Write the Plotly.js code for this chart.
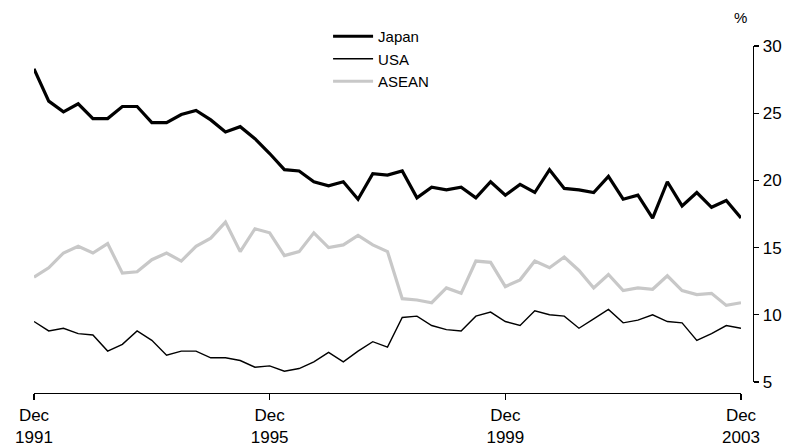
<!DOCTYPE html>
<html><head><meta charset="utf-8">
<script src="https://cdn.plot.ly/plotly-3.0.1.min.js"></script>
<style>html,body{margin:0;padding:0;background:#fff}#c{width:791px;height:448px}</style>
</head><body><div id="c"></div>
<script>
// Quarterly periods, Dec 1991 .. Dec 2003
const months = ['Mar','Jun','Sep','Dec'];
const quarters = ['Dec-1991'];
for (let y = 1992; y <= 2003; y++) for (const m of months) quarters.push(m + '-' + y);

const japan = [28.3,25.9,25.1,25.7,24.6,24.6,25.5,25.5,24.3,24.3,24.9,25.2,24.5,23.6,24.0,23.1,
  22.0,20.8,20.7,19.9,19.6,19.9,18.6,20.5,20.4,20.7,18.7,19.5,19.3,19.5,18.7,19.9,
  18.9,19.7,19.1,20.8,19.4,19.3,19.1,20.3,18.6,18.9,17.2,19.9,18.1,19.1,18.0,18.5,17.2];
const usa = [9.5,8.8,9.0,8.6,8.5,7.3,7.8,8.8,8.1,7.0,7.3,7.3,6.8,6.8,6.6,6.1,
  6.2,5.8,6.0,6.5,7.2,6.5,7.3,8.0,7.6,9.8,9.9,9.2,8.9,8.8,9.9,10.2,
  9.5,9.2,10.3,10.0,9.9,9.0,9.7,10.4,9.4,9.6,10.0,9.5,9.4,8.1,8.6,9.2,9.0];
const asean = [12.8,13.5,14.6,15.1,14.6,15.3,13.1,13.2,14.1,14.6,14.0,15.1,15.7,16.9,14.7,16.4,
  16.1,14.4,14.7,16.1,15.0,15.2,15.9,15.2,14.7,11.2,11.1,10.9,12.0,11.6,14.0,13.9,
  12.1,12.6,14.0,13.5,14.3,13.3,12.0,13.0,11.8,12.0,11.9,12.9,11.8,11.5,11.6,10.7,10.9];

const tickVals = ['Dec-1991','Dec-1995','Dec-1999','Dec-2003'];
const tickText = ['Dec<br>1991','Dec<br>1995','Dec<br>1999','Dec<br>2003'];
const yTicks = [5,10,15,20,25,30];

const font = '"Liberation Sans", Arial, sans-serif';

const traces = [
  {x: quarters, y: japan, name: 'Japan', type: 'scatter', mode: 'lines',
   line: {color: '#000000', width: 3.2}},
  {x: quarters, y: usa, name: 'USA', type: 'scatter', mode: 'lines',
   line: {color: '#000000', width: 1.4}},
  {x: quarters, y: asean, name: 'ASEAN', type: 'scatter', mode: 'lines',
   line: {color: '#c8c8c8', width: 3.2}}
];

const layout = {
  width: 791, height: 448,
  margin: {l: 34, r: 38, t: 46, b: 55, pad: 0},
  paper_bgcolor: '#ffffff', plot_bgcolor: '#ffffff',
  showlegend: true,
  legend: {x: 0.409, y: 1.075, xanchor: 'left', yanchor: 'top',
    font: {family: font, size: 15, color: '#000'}, bgcolor: 'rgba(0,0,0,0)',
    tracegroupgap: 0, itemwidth: 40},
  xaxis: {
    type: 'category', domain: [0, 0.9833], range: [0, quarters.length - 1],
    anchor: 'free', position: 0,
    tickmode: 'array', tickvals: tickVals, ticktext: tickText,
    showline: true, linecolor: '#000', linewidth: 1.3,
    ticks: 'outside', ticklen: 6, tickcolor: '#000', tickwidth: 1.3,
    showgrid: false, zeroline: false,
    tickfont: {family: font, size: 17, color: '#000'}
  },
  yaxis: {
    domain: [0.0317, 1], range: [5, 30], side: 'right',
    anchor: 'free', position: 1,
    tickmode: 'array', tickvals: yTicks,
    showline: true, linecolor: '#000', linewidth: 1.3,
    ticks: 'outside', ticklen: 5, tickcolor: '#000', tickwidth: 1.3,
    showgrid: false, zeroline: false,
    tickfont: {family: font, size: 17, color: '#000'}
  },
  annotations: [
    {text: '%', xref: 'paper', yref: 'paper', x: 0.983, y: 1.052, xanchor: 'center', yanchor: 'bottom',
     showarrow: false, font: {family: font, size: 15, color: '#000'}}
  ]
};

Plotly.newPlot('c', traces, layout, {displayModeBar: false, staticPlot: true});
</script>
</body></html>
